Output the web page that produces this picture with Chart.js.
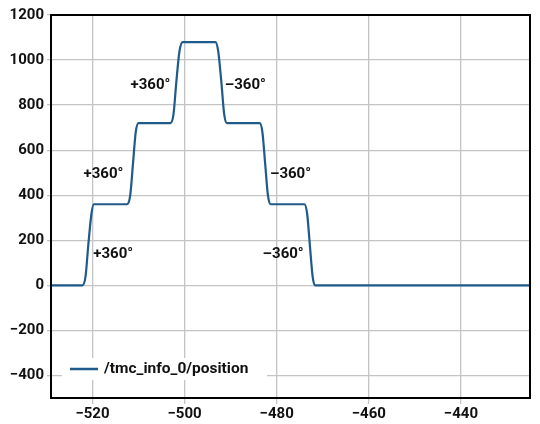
<!DOCTYPE html>
<html><head><meta charset="utf-8">
<script src="https://cdn.jsdelivr.net/npm/chart.js@4"></script>
<style>html,body{margin:0;background:#fff}#w{width:540px;height:424px}</style>
</head><body><div id="w"><canvas id="c"></canvas></div>
<script>
const xs = [-529,-522.2,-521.5,-520.9,-520.2,-519.7,-512.5,-511.8,-511.2,-510.6,-510,-503.1,-502.4,-501.8,-501.1,-500.4,-493.3,-492.7,-492.0,-491.4,-490.8,-483.7,-483.1,-482.5,-481.9,-481.3,-474,-473.4,-472.8,-472.2,-471.7,-425];
const ys = [0,0,40,180,320,360,360,400,540,680,720,720,760,900,1040,1080,1080,1040,900,760,720,720,680,540,400,360,360,320,180,40,0,0];
const labelText = ["+360°","+360°","+360°","–360°","–360°","–360°"];
const labelX = [-515.5,-517.6,-507.4,-486.8,-477,-478.6];
const labelY = [138,495,888,888,495,138];
const seriesName = "/tmc_info_0/position";
const F = "Roboto, 'DejaVu Sans', sans-serif";
const ann = {id:'ann', afterDatasetsDraw(ch){
  const {ctx,scales:{x,y},chartArea:a}=ch;
  ctx.save();
  ctx.font="bold 15px "+F; ctx.fillStyle="#111"; ctx.textAlign="center"; ctx.textBaseline="middle";
  labelText.forEach((t,i)=>ctx.fillText(t,x.getPixelForValue(labelX[i]),y.getPixelForValue(labelY[i])));
  ctx.fillStyle="#fff"; ctx.fillRect(62,358,205,22);
  ctx.strokeStyle="#1f5a8c"; ctx.lineWidth=2.5; ctx.beginPath(); ctx.moveTo(70,369); ctx.lineTo(98,369); ctx.stroke();
  ctx.fillStyle="#111"; ctx.textAlign="left"; ctx.font="bold 15.5px "+F; ctx.fillText(seriesName,104,369);
  ctx.strokeStyle="#000"; ctx.lineWidth=2; ctx.strokeRect(a.left,a.top,a.right-a.left,a.bottom-a.top);
  ctx.restore();
}};
new Chart(document.getElementById('c'),{
  type:'line',
  data:{datasets:[{data:xs.map((v,i)=>({x:v,y:ys[i]})),borderColor:'#1f5a8c',borderWidth:2.2,pointRadius:0,cubicInterpolationMode:'monotone',fill:false}]},
  options:{responsive:true,maintainAspectRatio:false,animation:false,
    layout:{padding:{top:15,right:10,left:0,bottom:0}},
    plugins:{legend:{display:false},tooltip:{enabled:false}},
    scales:{
      x:{type:'linear',min:-529,max:-425,afterBuildTicks(s){s.ticks=[-520,-500,-480,-460,-440].map(v=>({value:v}));},
        grid:{color:'#c4c4c4',lineWidth:1.3,tickLength:6},border:{display:false},
        ticks:{color:'#111',font:{family:F,size:15,weight:'bold'},callback:v=>String(v).replace('-','−'),padding:1}},
      y:{min:-500,max:1200,afterBuildTicks(s){s.ticks=[-400,-200,0,200,400,600,800,1000,1200].map(v=>({value:v}));},
        afterFit(s){s.width=51;},
        grid:{color:'#c4c4c4',lineWidth:1.3,tickLength:4},border:{display:false},
        ticks:{color:'#111',font:{family:F,size:15,weight:'bold'},callback:v=>String(v).replace('-','−'),padding:3}}
    }},
  plugins:[ann]
});
</script></body></html>
